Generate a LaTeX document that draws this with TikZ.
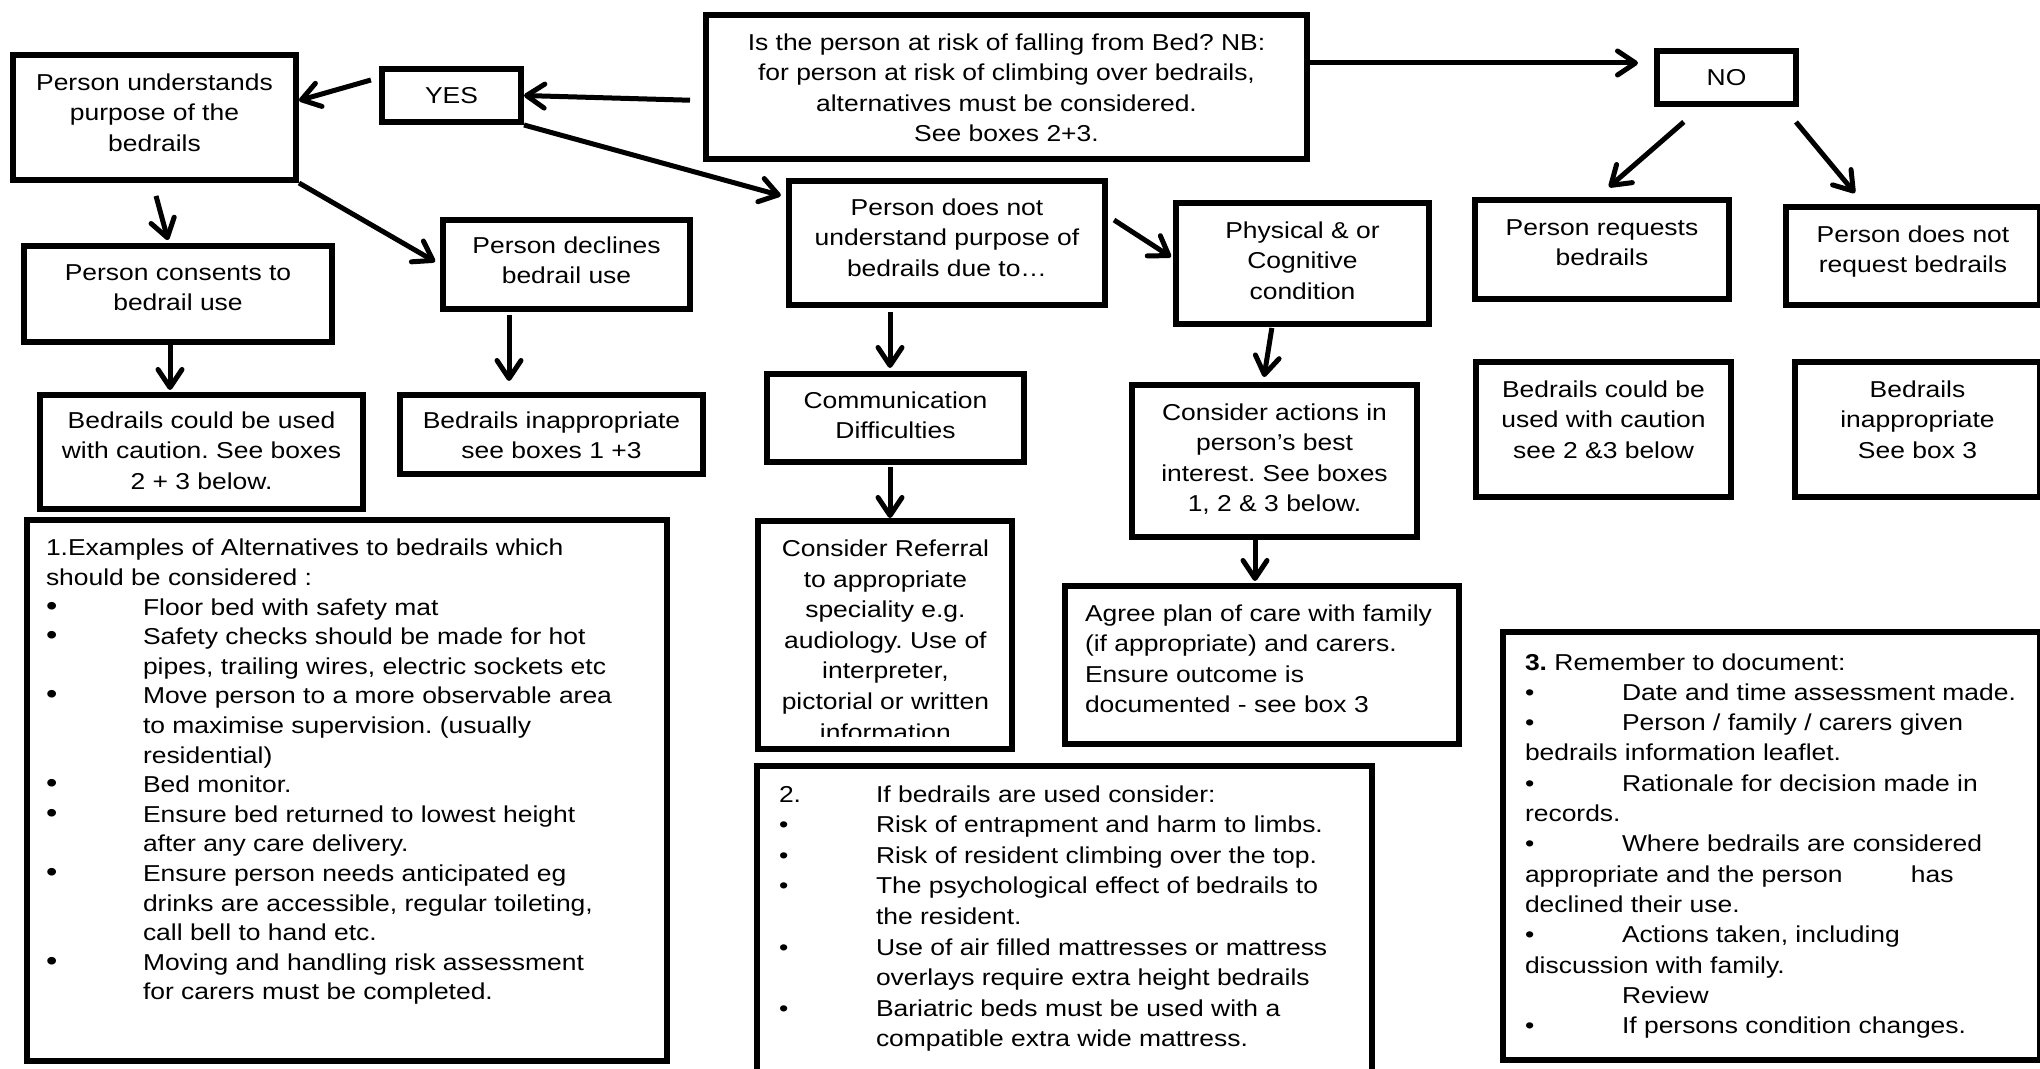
\documentclass[tikz,border=0pt]{standalone}
\usepackage{fontspec}
\setmainfont{Liberation Sans}[FakeStretch=1.15]
\usetikzlibrary{arrows.meta}
\frenchspacing

% box texts: width, height, top pad, lines
\newcommand{\boxcell}[4]{\parbox[c][#2][t]{#1}{\vspace*{#3}\centering\strut #4\par}}
\newcommand{\listcell}[5]{\parbox[c][#2][t]{#1}{\vspace*{#3}\raggedright\leftskip=#4\relax\rightskip=-30pt plus 1fil\relax\strut #5\par}}
\newcommand{\tabbed}{\hspace*{48.5pt}}
\newcommand{\blt}{\makebox[48.5pt][l]{\textbullet}}
\newcommand{\bigblt}{\makebox[48.5pt][l]{\fontsize{14}{15}\selectfont\textbullet}}

\begin{document}
\begin{tikzpicture}[x=0.5pt, y=-0.5pt,
  >={Straight Barb[length=9pt,width=12pt,round]},
  box/.style={draw, line width=3pt, inner sep=0pt, anchor=north west},
  tag/.style={box, minimum width=69.5pt, minimum height=26.5pt},
  link/.style={->, line width=2.5pt},
  every node/.style={font=\fontsize{11.5}{15.3}\selectfont}]
  \useasboundingbox (0,0) rectangle (2040,1069);

  % question and answers
  \node[box] (q) at (703,12) {\boxcell{300.5pt}{72pt}{6.8pt}{Is the person at risk of falling from Bed? NB:\\for person at risk of climbing over bedrails,\\alternatives must be considered.\\See boxes 2+3.}};
  \node[tag] (yes) at (379,66) {YES};
  \node[tag] (no) at (1654,48) {NO};

  % yes branch
  \node[box] (und) at (10,52) {\boxcell{141.5pt}{62.5pt}{6.8pt}{Person understands\\purpose of the\\bedrails}};
  \node[box] (cons) at (21,243) {\boxcell{154pt}{48pt}{6.3pt}{Person consents to\\bedrail use}};
  \node[box] (decl) at (440,217) {\boxcell{123.5pt}{44.5pt}{5.8pt}{Person declines\\bedrail use}};
  \node[box] (caut) at (37,392) {\boxcell{161.5pt}{57pt}{5.8pt}{Bedrails could be used\\with caution. See boxes\\2 + 3 below.}};
  \node[box] (inap) at (397,392) {\boxcell{151.5pt}{39.5pt}{5.8pt}{Bedrails inappropriate\\see boxes 1 +3}};
  \node[box] (dnu) at (786,178) {\boxcell{158pt}{62pt}{6.3pt}{Person does not\\understand purpose of\\bedrails due to…}};
  \node[box] (comm) at (764,371) {\boxcell{128.5pt}{44pt}{6.3pt}{Communication\\Difficulties}};
  \node[box, minimum width=127pt, minimum height=114pt] (refr) at (755,518) {};
  \begin{scope}
    \clip (refr.north west) rectangle ([yshift=8pt]refr.south east);
    \node[anchor=north west, inner sep=0pt] (refrtext) at ([xshift=1.5pt,yshift=-1.5pt]refr.north west) {\boxcell{127pt}{114pt}{6.8pt}{Consider Referral\\to appropriate\\speciality e.g.\\audiology. Use of\\interpreter,\\pictorial or written\\information}};
  \end{scope}
  \node[box] (phys) at (1173,200) {\boxcell{126.5pt}{60.5pt}{6.8pt}{Physical \& or\\Cognitive\\condition}};
  \node[box] (act) at (1129,382) {\boxcell{142.5pt}{76pt}{6.8pt}{Consider actions in\\person’s best\\interest. See boxes\\1, 2 \& 3 below.}};
  \node[box] (plan) at (1062,583) {\listcell{197pt}{79pt}{6.8pt}{10pt}{Agree plan of care with family\\(if appropriate) and carers.\\Ensure outcome is\\documented - see box 3}};

  % no branch
  \node[box] (req) at (1472,197) {\boxcell{127pt}{49.5pt}{6.8pt}{Person requests\\bedrails}};
  \node[box] (nreq) at (1783,204) {\boxcell{127pt}{49pt}{6.8pt}{Person does not\\request bedrails}};
  \node[box] (caut2) at (1473,359) {\boxcell{127.5pt}{67.5pt}{6.8pt}{Bedrails could be\\used with caution\\see 2 \&3 below}};
  \node[box] (inap2) at (1792,359) {\boxcell{122.5pt}{67.5pt}{6.8pt}{Bedrails\\inappropriate\\See box 3}};

  % numbered boxes
  \node[box, font=\fontsize{11.5}{14.8}\selectfont] (b1) at (24,517) {\listcell{320pt}{270.5pt}{7.6pt}{9.5pt}{1.Examples of Alternatives to bedrails which\\
    should be considered :\\
    \bigblt Floor bed with safety mat\\
    \bigblt Safety checks should be made for hot\\
    \tabbed pipes, trailing wires, electric sockets etc\\
    \bigblt Move person to a more observable area\\
    \tabbed to maximise supervision. (usually\\
    \tabbed residential)\\
    \bigblt Bed monitor.\\
    \bigblt Ensure bed returned to lowest height\\
    \tabbed after any care delivery.\\
    \bigblt Ensure person needs anticipated eg\\
    \tabbed drinks are accessible, regular toileting,\\
    \tabbed call bell to hand etc.\\
    \bigblt Moving and handling risk assessment\\
    \tabbed for carers must be completed.}};
  \node[box] (b2) at (754,763) {\listcell{307.5pt}{167pt}{7.3pt}{11pt}{\makebox[48.5pt][l]{2.}If bedrails are used consider:\\
    \blt Risk of entrapment and harm to limbs.\\
    \blt Risk of resident climbing over the top.\\
    \blt The psychological effect of bedrails to\\
    \tabbed the resident.\\
    \blt Use of air filled mattresses or mattress\\
    \tabbed overlays require extra height bedrails\\
    \blt Bariatric beds must be used with a\\
    \tabbed compatible extra wide mattress.}};
  \node[box, font=\fontsize{11.5}{15.15}\selectfont] (b3) at (1500,629) {\listcell{268.5pt}{214pt}{8.4pt}{11pt}{\textbf{3.} Remember to document:\\
    \blt Date and time assessment made.\\
    \blt Person / family / carers given\\
    bedrails information leaflet.\\
    \blt Rationale for decision made in\\
    records.\\
    \blt Where bedrails are considered\\
    \makebox[193pt][l]{appropriate and the person}has\\
    declined their use.\\
    \blt Actions taken, including\\
    discussion with family.\\
    \tabbed Review\\
    \blt If persons condition changes.}};

  % connectors
  \draw[link, shorten <=6.5pt] ([yshift=-6.8pt]q.west) -- (yes.east);
  \draw[link, shorten >=8pt] ([yshift=12pt]q.east) -- ([yshift=12pt]q.east -| no.west);
  \draw[link, shorten <=4.2pt] ([yshift=8.9pt]yes.west) -- ([yshift=8.5pt]und.east);
  \draw[link, shorten >=2.7pt] (yes.south east) -- ([yshift=23pt]dnu.west);
  \draw[link, shorten <=6.7pt, shorten >=1.5pt] ([xshift=-1pt]und.south) -- ([xshift=-4.6pt]cons.north);
  \draw[link, shorten >=2.8pt] (und.south east) -- (decl.west);
  \draw[link, shorten >=1pt] ([xshift=-4pt]cons.south) -- ([xshift=-4pt]cons.south |- caut.north);
  \draw[link, shorten <=1.5pt, shorten >=5.5pt] ([xshift=-28.75pt]decl.south) -- ([xshift=-28.75pt]decl.south |- inap.north);
  \draw[link, shorten <=2pt, shorten >=1.5pt] ([xshift=-28.5pt]dnu.south) -- ([xshift=-28.5pt]dnu.south |- comm.north);
  \draw[link, shorten <=1pt] ([xshift=-2.75pt]comm.south) -- ([xshift=-2.75pt]comm.south |- refr.north);
  \draw[link, shorten <=3.6pt, shorten >=1.2pt] ([yshift=13.45pt]dnu.east) -- ([yshift=2.6pt]phys.west);
  \draw[link, shorten <=0.5pt, shorten >=2.5pt] ([xshift=-15.25pt]phys.south) -- ([xshift=-5.65pt]act.north);
  \draw[link, shorten >=1pt] ([xshift=-9.75pt]act.south) -- ([xshift=-9.75pt]act.south |- plan.north);
  \draw[link, shorten <=11.4pt, shorten >=7.6pt] ([xshift=-12.75pt]no.south) -- ([xshift=-2.25pt]req.north);
  \draw[link, shorten <=9.75pt, shorten >=7.15pt] ([xshift=28.5pt]no.south) -- ([xshift=-24.5pt]nreq.north);
\end{tikzpicture}
\end{document}
